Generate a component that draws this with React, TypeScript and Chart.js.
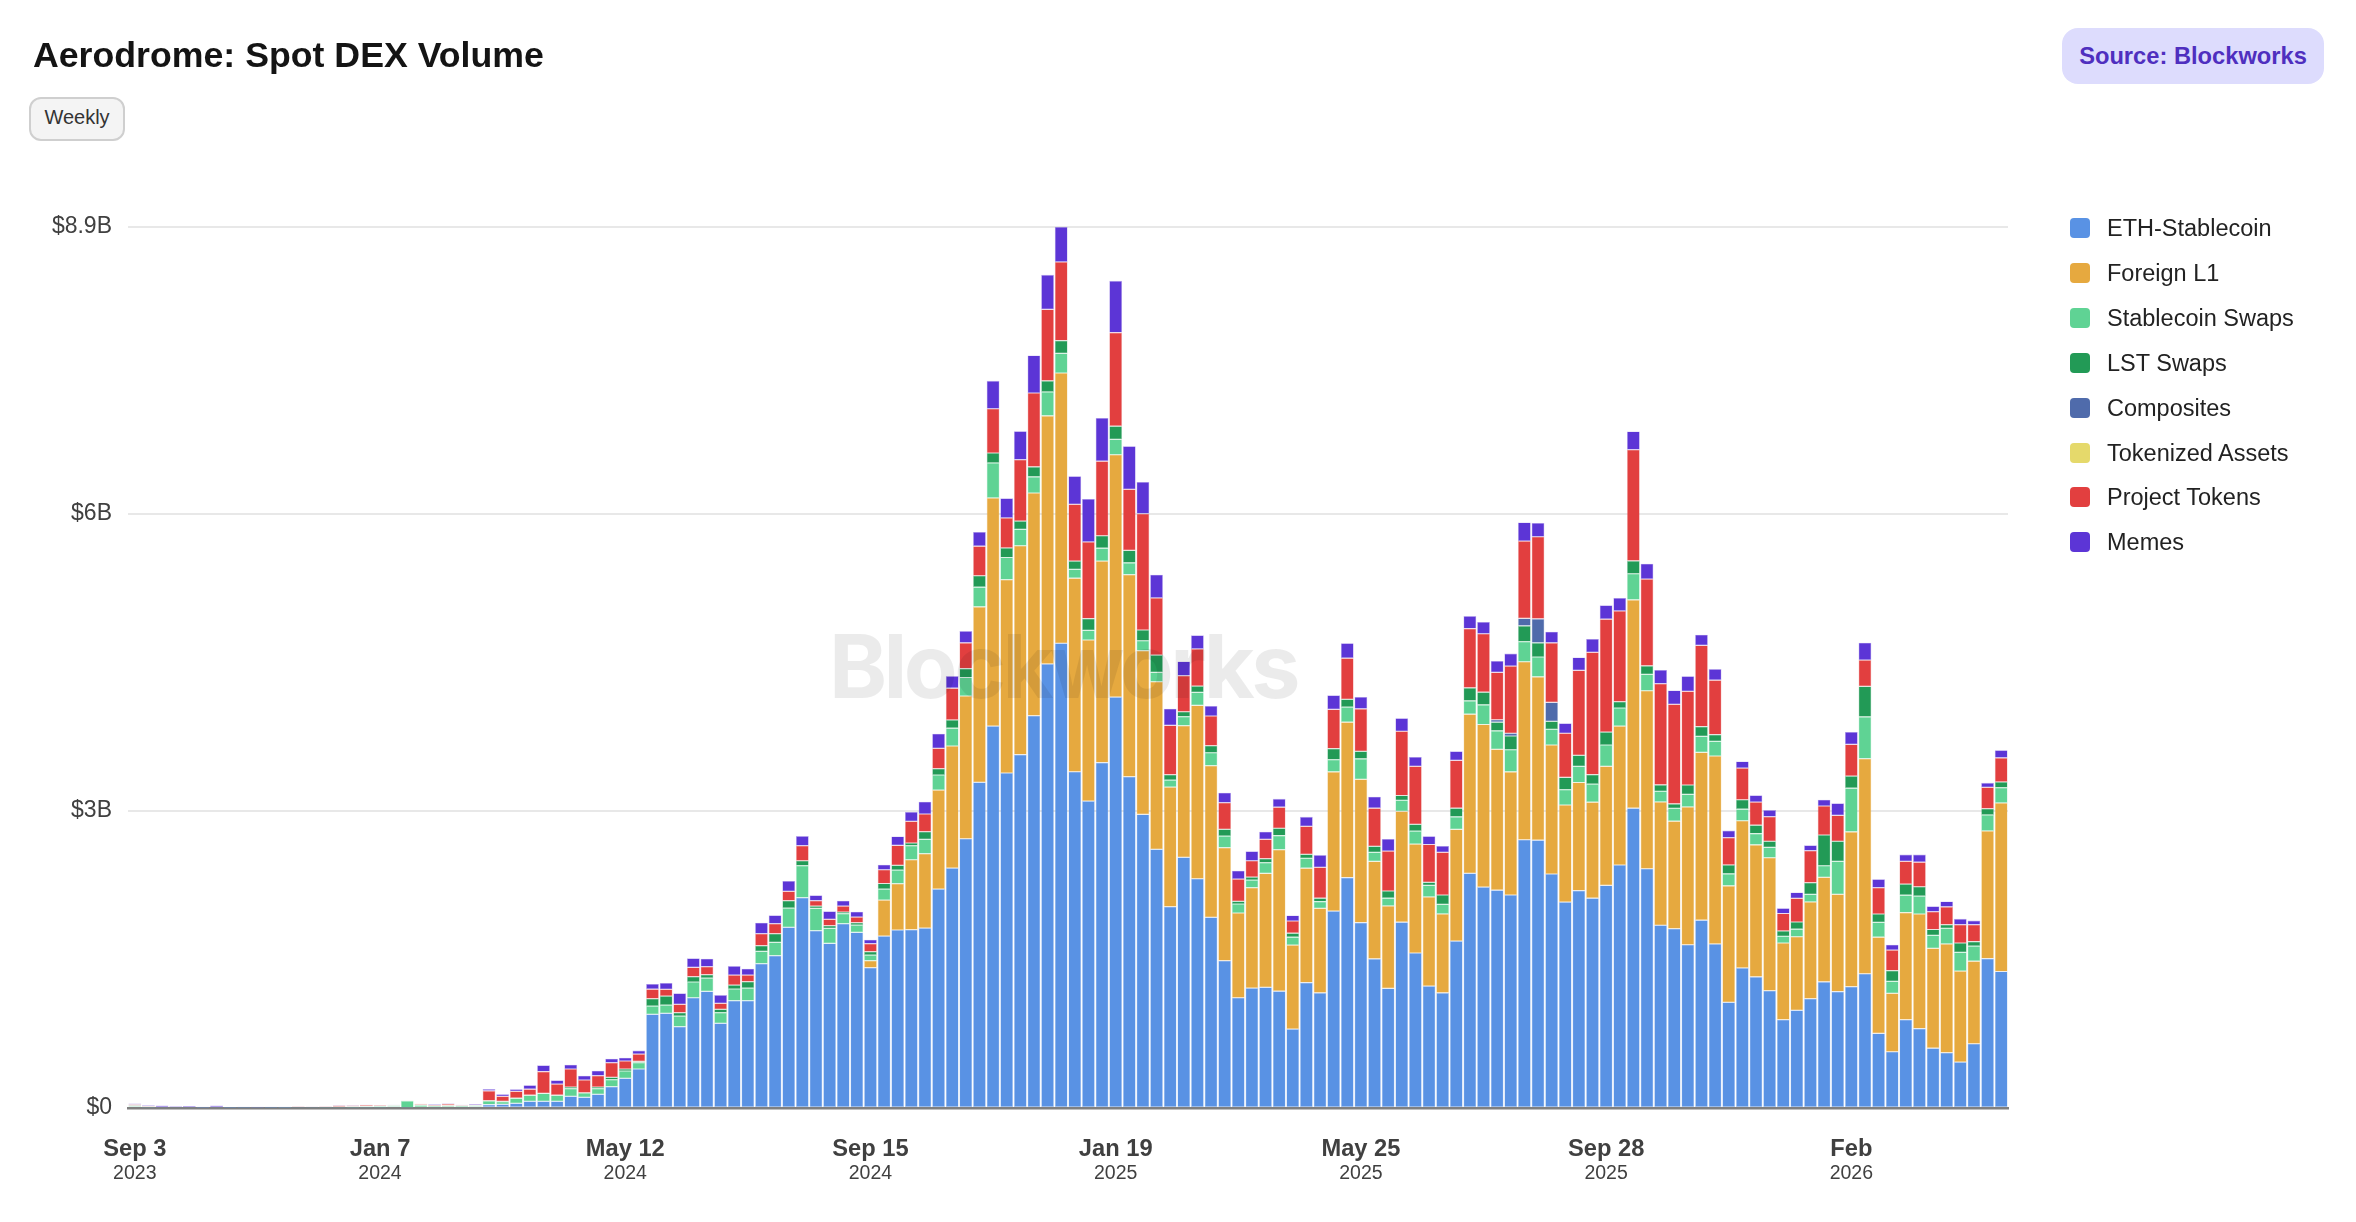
import { useEffect, useRef } from "react";
import { Chart, registerables } from "chart.js";

Chart.register(...registerables);

const FONT = '"Liberation Sans", Arial, sans-serif';
const weekCount = 138;
const tickEvery = 18;

// one label per week, starting on Sep 3 2023
const weeks: string[] = [];
for (let i = 0; i < weekCount; i++) {
  const d = new Date(Date.UTC(2023, 8, 3 + i * 7));
  weeks.push(d.toISOString().slice(0, 10));
}

const tickLabels = ["Sep 3", "Jan 7", "May 12", "Sep 15", "Jan 19", "May 25", "Sep 28", "Feb"];
const tickYears = ["2023", "2024", "2024", "2024", "2025", "2025", "2025", "2026"];
const yTicks = [0, 3, 6, 8.9];

// weekly volume in $B
const ethStablecoin = [
  0.012, 0.006, 0.004, 0.004, 0.004, 0.003, 0.004, 0.003, 0.003, 0.003,
  0.003, 0.003, 0.004, 0.004, 0.004, 0.004, 0.005, 0.005, 0.005, 0.012,
  0.004, 0.01, 0.008, 0.01, 0.008, 0.012, 0.035, 0.037, 0.047, 0.067,
  0.067, 0.067, 0.118, 0.108, 0.138, 0.215, 0.3, 0.394, 0.946, 0.956,
  0.822, 1.114, 1.178, 0.855, 1.084, 1.084, 1.458, 1.539, 1.825, 2.125,
  1.791, 1.663, 1.862, 1.774, 1.418, 1.737, 1.798, 1.801, 1.818, 2.212,
  2.424, 2.72, 3.29, 3.858, 3.384, 3.57, 3.963, 4.486, 4.695, 3.397,
  3.101, 3.49, 4.151, 3.347, 2.966, 2.613, 2.034, 2.532, 2.316, 1.926,
  1.488, 1.114, 1.212, 1.219, 1.18, 0.797, 1.267, 1.164, 1.989, 2.328,
  1.873, 1.507, 1.208, 1.877, 1.566, 1.232, 1.164, 1.686, 2.371, 2.232,
  2.2, 2.152, 2.71, 2.706, 2.364, 2.08, 2.196, 2.12, 2.248, 2.455,
  3.029, 2.417, 1.846, 1.812, 1.649, 1.897, 1.658, 1.068, 1.415, 1.325,
  1.185, 0.892, 0.987, 1.104, 1.275, 1.176, 1.226, 1.356, 0.753, 0.568,
  0.892, 0.802, 0.604, 0.559, 0.464, 0.649, 1.51, 1.379,
];
const foreignL1 = [
  0, 0, 0, 0, 0, 0, 0, 0, 0, 0,
  0, 0, 0, 0, 0, 0, 0, 0, 0, 0,
  0, 0, 0, 0, 0, 0, 0, 0, 0, 0,
  0, 0, 0, 0, 0, 0, 0, 0, 0, 0,
  0, 0, 0, 0, 0, 0, 0, 0, 0, 0,
  0, 0, 0, 0, 0.07, 0.363, 0.468, 0.707, 0.751, 1.0,
  1.233, 1.442, 1.773, 2.305, 1.953, 2.11, 2.25, 2.506, 2.73, 1.955,
  1.627, 2.035, 2.448, 2.041, 1.654, 1.693, 1.208, 1.33, 1.751, 1.532,
  1.142, 0.856, 1.014, 1.151, 1.43, 0.849, 1.156, 0.853, 1.407, 1.57,
  1.447, 0.984, 0.833, 1.12, 1.1, 0.9, 0.797, 1.128, 1.607, 1.642,
  1.423, 1.244, 1.798, 1.65, 1.303, 0.981, 1.092, 0.969, 1.204, 1.403,
  2.105, 1.798, 1.246, 1.086, 1.393, 1.695, 1.898, 1.176, 1.487, 1.334,
  1.343, 0.775, 0.743, 0.978, 1.055, 0.983, 1.564, 2.173, 0.973, 0.59,
  1.082, 1.158, 1.009, 1.099, 0.919, 0.834, 1.289, 1.703,
];
const stablecoinSwaps = [
  0.008, 0.004, 0.002, 0.002, 0.002, 0.002, 0.002, 0.003, 0.003, 0.002,
  0.003, 0.004, 0.004, 0.004, 0.005, 0.006, 0.007, 0.01, 0.012, 0.012,
  0.068, 0.018, 0.012, 0.012, 0.012, 0.012, 0.037, 0.027, 0.051, 0.061,
  0.08, 0.061, 0.077, 0.044, 0.057, 0.071, 0.074, 0.064, 0.084, 0.084,
  0.107, 0.159, 0.135, 0.108, 0.118, 0.128, 0.124, 0.134, 0.195, 0.323,
  0.226, 0.152, 0.101, 0.074, 0.057, 0.112, 0.138, 0.142, 0.145, 0.152,
  0.18, 0.187, 0.198, 0.354, 0.224, 0.166, 0.163, 0.242, 0.198, 0.09,
  0.097, 0.13, 0.155, 0.119, 0.1, 0.094, 0.071, 0.091, 0.131, 0.131,
  0.117, 0.091, 0.077, 0.108, 0.142, 0.08, 0.1, 0.068, 0.123, 0.152,
  0.207, 0.092, 0.079, 0.112, 0.132, 0.116, 0.096, 0.127, 0.135, 0.199,
  0.187, 0.223, 0.203, 0.2, 0.159, 0.155, 0.164, 0.183, 0.215, 0.183,
  0.263, 0.165, 0.108, 0.13, 0.126, 0.162, 0.148, 0.122, 0.117, 0.113,
  0.104, 0.068, 0.077, 0.077, 0.117, 0.333, 0.441, 0.423, 0.149, 0.122,
  0.176, 0.181, 0.131, 0.158, 0.19, 0.153, 0.162, 0.154,
];
const lstSwaps = [
  0.004, 0.002, 0.002, 0.001, 0.001, 0.001, 0.002, 0.001, 0.001, 0.001,
  0.001, 0.001, 0.001, 0.001, 0.001, 0.002, 0.002, 0.003, 0.003, 0.003,
  0.002, 0.004, 0.003, 0.004, 0.003, 0.003, 0.002, 0.003, 0.002, 0.002,
  0.002, 0.002, 0.017, 0.002, 0.017, 0.024, 0.02, 0.013, 0.074, 0.091,
  0.034, 0.054, 0.034, 0.034, 0.04, 0.064, 0.058, 0.088, 0.074, 0.05,
  0.023, 0.027, 0.017, 0.024, 0.034, 0.056, 0.048, 0.027, 0.077, 0.064,
  0.083, 0.09, 0.116, 0.1, 0.097, 0.083, 0.101, 0.112, 0.13, 0.083,
  0.119, 0.126, 0.134, 0.126, 0.109, 0.176, 0.054, 0.05, 0.064, 0.071,
  0.068, 0.027, 0.03, 0.041, 0.074, 0.04, 0.04, 0.035, 0.112, 0.079,
  0.076, 0.06, 0.072, 0.048, 0.068, 0.032, 0.095, 0.088, 0.132, 0.128,
  0.088, 0.139, 0.16, 0.143, 0.08, 0.124, 0.111, 0.096, 0.131, 0.064,
  0.131, 0.087, 0.065, 0.045, 0.095, 0.099, 0.068, 0.09, 0.095, 0.085,
  0.063, 0.054, 0.072, 0.117, 0.311, 0.203, 0.122, 0.307, 0.085, 0.108,
  0.112, 0.094, 0.059, 0.036, 0.094, 0.045, 0.063, 0.058,
];
const composites = [
  0, 0, 0, 0, 0, 0, 0, 0, 0, 0,
  0, 0, 0, 0, 0, 0, 0, 0, 0, 0,
  0, 0, 0, 0, 0, 0, 0, 0, 0, 0,
  0, 0, 0, 0, 0, 0, 0, 0, 0, 0,
  0, 0, 0, 0, 0, 0, 0, 0, 0, 0,
  0, 0, 0, 0, 0, 0, 0, 0, 0, 0,
  0, 0, 0, 0, 0, 0, 0, 0, 0, 0,
  0, 0, 0, 0, 0, 0, 0, 0, 0, 0,
  0, 0, 0, 0, 0, 0, 0, 0, 0, 0,
  0, 0, 0, 0, 0, 0, 0, 0, 0, 0,
  0.024, 0.028, 0.075, 0.243, 0.191, 0, 0, 0, 0, 0,
  0, 0, 0, 0, 0, 0, 0, 0, 0, 0,
  0, 0, 0, 0, 0, 0, 0, 0, 0, 0,
  0, 0, 0, 0, 0, 0, 0, 0,
];
const tokenizedAssets = [
  0, 0, 0, 0, 0, 0, 0, 0, 0, 0,
  0, 0, 0, 0, 0, 0, 0, 0, 0, 0,
  0, 0, 0, 0, 0, 0, 0, 0, 0, 0,
  0, 0, 0, 0, 0, 0, 0, 0, 0, 0,
  0, 0, 0, 0, 0, 0, 0, 0, 0, 0,
  0, 0, 0, 0, 0, 0, 0, 0, 0, 0,
  0, 0, 0, 0, 0, 0, 0, 0, 0, 0,
  0, 0, 0, 0, 0, 0, 0, 0, 0, 0,
  0, 0, 0, 0, 0, 0, 0, 0, 0, 0,
  0, 0, 0, 0, 0, 0, 0, 0, 0, 0,
  0, 0, 0, 0, 0, 0, 0, 0, 0, 0,
  0, 0, 0, 0, 0, 0, 0, 0, 0, 0,
  0, 0, 0, 0, 0, 0, 0, 0, 0, 0,
  0, 0, 0, 0, 0, 0, 0, 0,
];
const projectTokens = [
  0.012, 0.006, 0.002, 0.002, 0.002, 0.002, 0.002, 0.001, 0.003, 0.003,
  0.003, 0.003, 0.006, 0.003, 0.005, 0.014, 0.012, 0.012, 0.008, 0.004,
  0.001, 0.01, 0.008, 0.016, 0.004, 0.006, 0.1, 0.051, 0.068, 0.06,
  0.219, 0.112, 0.182, 0.129, 0.115, 0.148, 0.081, 0.074, 0.096, 0.068,
  0.084, 0.093, 0.081, 0.06, 0.101, 0.067, 0.121, 0.101, 0.095, 0.152,
  0.054, 0.064, 0.06, 0.057, 0.081, 0.139, 0.201, 0.219, 0.179, 0.205,
  0.321, 0.26, 0.299, 0.447, 0.303, 0.62, 0.746, 0.721, 0.794, 0.573,
  0.775, 0.753, 0.945, 0.617, 1.175, 0.577, 0.498, 0.364, 0.376, 0.3,
  0.269, 0.225, 0.165, 0.195, 0.213, 0.123, 0.283, 0.311, 0.395, 0.415,
  0.43, 0.386, 0.403, 0.649, 0.586, 0.382, 0.431, 0.482, 0.598, 0.59,
  0.478, 0.678, 0.781, 0.829, 0.602, 0.446, 0.857, 1.235, 1.14, 0.917,
  1.122, 0.876, 1.022, 1.005, 0.946, 0.82, 0.55, 0.275, 0.32, 0.234,
  0.248, 0.176, 0.239, 0.324, 0.293, 0.261, 0.32, 0.266, 0.266, 0.207,
  0.23, 0.248, 0.18, 0.18, 0.185, 0.171, 0.216, 0.244,
];
const memes = [
  0.009, 0.009, 0.014, 0.008, 0.011, 0.005, 0.014, 0.002, 0.003, 0.004,
  0.003, 0.002, 0.003, 0.002, 0.002, 0.004, 0.004, 0.003, 0.002, 0.002,
  0.002, 0.002, 0.006, 0.005, 0.006, 0.007, 0.017, 0.022, 0.022, 0.04,
  0.063, 0.038, 0.044, 0.044, 0.05, 0.04, 0.033, 0.035, 0.053, 0.064,
  0.111, 0.092, 0.08, 0.084, 0.091, 0.064, 0.111, 0.084, 0.104, 0.097,
  0.054, 0.081, 0.054, 0.054, 0.04, 0.051, 0.09, 0.094, 0.124, 0.148,
  0.122, 0.119, 0.144, 0.282, 0.198, 0.288, 0.379, 0.35, 0.353, 0.285,
  0.433, 0.437, 0.523, 0.436, 0.321, 0.235, 0.169, 0.144, 0.137, 0.101,
  0.101, 0.084, 0.095, 0.077, 0.084, 0.056, 0.095, 0.124, 0.143, 0.151,
  0.12, 0.116, 0.123, 0.132, 0.095, 0.084, 0.064, 0.092, 0.127, 0.119,
  0.116, 0.127, 0.188, 0.14, 0.112, 0.1, 0.132, 0.136, 0.14, 0.131,
  0.185, 0.156, 0.138, 0.14, 0.153, 0.108, 0.112, 0.072, 0.067, 0.068,
  0.067, 0.054, 0.059, 0.054, 0.063, 0.122, 0.126, 0.175, 0.086, 0.054,
  0.068, 0.077, 0.054, 0.055, 0.059, 0.041, 0.045, 0.076,
];

const seriesNames = [
  "ETH-Stablecoin",
  "Foreign L1",
  "Stablecoin Swaps",
  "LST Swaps",
  "Composites",
  "Tokenized Assets",
  "Project Tokens",
  "Memes",
];
const seriesColors = ["#5992e4", "#e6a93f", "#5fd394", "#229a56", "#4f6bab", "#e5d96b", "#e23f3f", "#5c35d6"];
const seriesValues = [
  ethStablecoin,
  foreignL1,
  stablecoinSwaps,
  lstSwaps,
  composites,
  tokenizedAssets,
  projectTokens,
  memes,
];

export default function App() {
  const canvasRef = useRef<HTMLCanvasElement>(null);

  useEffect(() => {
    if (!canvasRef.current) return;

    const chart = new Chart(canvasRef.current, {
      type: "bar",
      data: {
        labels: weeks,
        datasets: seriesNames.map((name, i) => ({
          label: name,
          data: seriesValues[i],
          backgroundColor: seriesColors[i],
          borderColor: seriesColors[i] + "66",
          // the thinnest slivers would be all border otherwise
          borderWidth: (ctx: any) => (ctx.raw >= 0.008 ? 0.6 : 0.3),
          borderSkipped: false,
          barPercentage: 0.94,
          categoryPercentage: 1,
          xAxisID: "x",
          yAxisID: "y",
        })),
      },
      options: {
        animation: false,
        responsive: false,
        layout: { padding: { top: 227, right: 348, bottom: 36, left: 0 } },
        plugins: { legend: { display: false }, tooltip: { enabled: false } },
        scales: {
          x: {
            type: "category",
            position: "bottom",
            stacked: true,
            offset: true,
            grid: { display: false },
            border: { color: "#808080", width: 2.5 },
            afterFit: (axis: any) => {
              axis.height = 54;
            },
            afterBuildTicks: (axis: any) => {
              axis.ticks = axis.ticks.filter((t: any) => t.value % tickEvery === 0);
            },
            ticks: {
              autoSkip: false,
              maxRotation: 0,
              padding: 19,
              color: "#404040",
              font: { family: FONT, size: 23.7, weight: "bold" },
              callback: (value: any) => tickLabels[Number(value) / tickEvery],
            },
          },
          x2: {
            type: "category",
            position: "bottom",
            offset: true,
            grid: { display: false, drawTicks: false },
            border: { display: false },
            afterFit: (axis: any) => {
              axis.height = 24;
            },
            afterBuildTicks: (axis: any) => {
              axis.ticks = axis.ticks.filter((t: any) => t.value % tickEvery === 0);
            },
            ticks: {
              autoSkip: false,
              maxRotation: 0,
              padding: 0,
              color: "#404040",
              font: { family: FONT, size: 19.5 },
              callback: (value: any) => tickYears[Number(value) / tickEvery],
            },
          },
          y: {
            stacked: true,
            min: 0,
            max: 8.9,
            grid: { color: "#e8e8e8", lineWidth: 2, drawTicks: false },
            border: { display: false },
            afterFit: (axis: any) => {
              axis.width = 128;
            },
            afterBuildTicks: (axis: any) => {
              axis.ticks = yTicks.map((value) => ({ value }));
            },
            ticks: {
              padding: 16,
              color: "#404040",
              font: { family: FONT, size: 23 },
              callback: (value: any) => (value === 0 ? "$0" : `$${value}B`),
            },
          },
        },
      },
    } as any);

    return () => chart.destroy();
  }, []);

  return (
    <div style={{ position: "absolute", left: 0, top: 0, width: 2356, height: 1222, overflow: "hidden", background: "#fff", fontFamily: FONT }}>
      <canvas ref={canvasRef} width={2356} height={1222} style={{ position: "absolute", left: 0, top: 0 }} />

      <div style={{ position: "absolute", left: 33, top: 34, fontSize: 35.7, lineHeight: "42px", fontWeight: 700, color: "#141414", whiteSpace: "nowrap" }}>
        Aerodrome: Spot DEX Volume
      </div>

      <div
        style={{
          position: "absolute",
          left: 29,
          top: 97,
          width: 96,
          height: 44,
          boxSizing: "border-box",
          border: "2px solid #cfcfcf",
          borderRadius: 12,
          background: "#f4f4f4",
          color: "#333",
          fontSize: 20,
          lineHeight: "37px",
          textAlign: "center",
        }}
      >
        Weekly
      </div>

      <div
        style={{
          position: "absolute",
          left: 2062,
          top: 28,
          width: 262,
          height: 56,
          borderRadius: 16,
          background: "#dddcfd",
          color: "#4f2fbf",
          fontSize: 23.7,
          fontWeight: 700,
          lineHeight: "56px",
          textAlign: "center",
          whiteSpace: "nowrap",
        }}
      >
        Source: Blockworks
      </div>

      {seriesNames.map((name, i) => (
        <div key={name} style={{ position: "absolute", left: 2070, top: 228 + i * 44.9 - 14, height: 28, whiteSpace: "nowrap" }}>
          <span style={{ position: "absolute", left: 0, top: 4, width: 20, height: 20, borderRadius: 4, background: seriesColors[i] }} />
          <span style={{ position: "absolute", left: 37, top: 0, fontSize: 23.5, lineHeight: "28px", color: "#222" }}>{name}</span>
        </div>
      ))}

      <div
        style={{
          position: "absolute",
          left: 829,
          top: 608,
          width: 469,
          fontFamily: "Inter, sans-serif",
          fontSize: 88,
          fontWeight: 700,
          lineHeight: "116px",
          letterSpacing: -3.6,
          color: "rgba(0,0,0,0.08)",
          whiteSpace: "nowrap",
          pointerEvents: "none",
        }}
      >
        Blockworks
      </div>
    </div>
  );
}
